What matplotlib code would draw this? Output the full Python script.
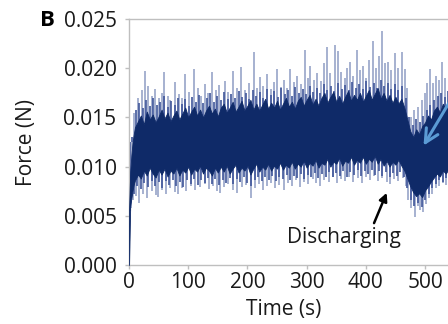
import matplotlib
matplotlib.use("Agg")
import matplotlib.pyplot as plt

plt.rcParams['font.family'] = ['Open Sans', 'DejaVu Sans']

# dark core of the force trace (time s, lower / upper force N)
core_t = [0, 2, 4, 6, 8, 10] + list(range(15, 565, 5))
core_hi = [0.0055, 0.0095, 0.0112, 0.0125, 0.0133, 0.0140,
           0.0146, 0.0152, 0.0143, 0.0156, 0.0148, 0.0153, 0.0145, 0.0151, 0.0158, 0.0149,
           0.0155, 0.0146, 0.0152, 0.0157, 0.0148, 0.0154, 0.0160, 0.0150,
           0.0156, 0.0161, 0.0152, 0.0158, 0.0150, 0.0157, 0.0162, 0.0154, 0.0159, 0.0151,
           0.0160, 0.0164, 0.0155, 0.0160, 0.0166, 0.0156, 0.0161, 0.0167, 0.0157, 0.0162,
           0.0168, 0.0158, 0.0164, 0.0157, 0.0163, 0.0169, 0.0159, 0.0165, 0.0160, 0.0167,
           0.0158, 0.0164, 0.0170, 0.0161, 0.0166, 0.0159, 0.0167, 0.0171, 0.0162, 0.0168,
           0.0173, 0.0163, 0.0169, 0.0162, 0.0170, 0.0175, 0.0165, 0.0171, 0.0176, 0.0166,
           0.0172, 0.0164, 0.0171, 0.0177, 0.0167, 0.0173, 0.0168, 0.0175, 0.0166, 0.0172,
           0.0178, 0.0168, 0.0174, 0.0180, 0.0169, 0.0175, 0.0167, 0.0173, 0.0165, 0.0171,
           0.0164, 0.0169, 0.0160, 0.0148, 0.0136, 0.0130, 0.0138, 0.0133, 0.0141, 0.0145,
           0.0152, 0.0148, 0.0157, 0.0161, 0.0155, 0.0164, 0.0158, 0.0166, 0.0160, 0.0165,
           0.0159, 0.0164]
core_lo = [0.0000, 0.0060, 0.0068, 0.0076, 0.0082, 0.0086,
           0.0092, 0.0088, 0.0096, 0.0091, 0.0099, 0.0093, 0.0089, 0.0097, 0.0092, 0.0098,
           0.0090, 0.0096, 0.0093, 0.0099, 0.0091, 0.0097, 0.0094, 0.0100,
           0.0092, 0.0098, 0.0095, 0.0101, 0.0093, 0.0099, 0.0096, 0.0091, 0.0099, 0.0094,
           0.0100, 0.0095, 0.0101, 0.0093, 0.0098, 0.0102, 0.0094, 0.0099, 0.0096, 0.0101,
           0.0092, 0.0098, 0.0103, 0.0095, 0.0100, 0.0097, 0.0103, 0.0096, 0.0101, 0.0098,
           0.0104, 0.0097, 0.0102, 0.0099, 0.0105, 0.0098, 0.0103, 0.0100, 0.0106, 0.0099,
           0.0104, 0.0101, 0.0107, 0.0099, 0.0104, 0.0102, 0.0108, 0.0100, 0.0105, 0.0103,
           0.0109, 0.0101, 0.0106, 0.0104, 0.0110, 0.0102, 0.0107, 0.0104, 0.0110, 0.0103,
           0.0108, 0.0105, 0.0111, 0.0103, 0.0108, 0.0101, 0.0106, 0.0100, 0.0105, 0.0102,
           0.0107, 0.0101, 0.0096, 0.0088, 0.0080, 0.0074, 0.0070, 0.0073, 0.0069, 0.0076,
           0.0080, 0.0085, 0.0089, 0.0093, 0.0090, 0.0096, 0.0093, 0.0098, 0.0095, 0.0099,
           0.0096, 0.0100]

# medium spikes just outside the core
mid_up_t = list(range(5, 561, 6))
mid_up_f = [0.0130, 0.0158, 0.0165, 0.0160, 0.0168, 0.0162, 0.0170, 0.0163, 0.0166, 0.0172,
            0.0161, 0.0167, 0.0163, 0.0170, 0.0164, 0.0169, 0.0162, 0.0171, 0.0166, 0.0173,
            0.0165, 0.0170, 0.0175, 0.0166, 0.0172, 0.0168, 0.0176, 0.0169, 0.0174, 0.0170,
            0.0177, 0.0171, 0.0175, 0.0169, 0.0178, 0.0172, 0.0176, 0.0170, 0.0179, 0.0173,
            0.0177, 0.0171, 0.0180, 0.0174, 0.0178, 0.0172, 0.0181, 0.0175, 0.0179, 0.0174,
            0.0182, 0.0176, 0.0180, 0.0175, 0.0184, 0.0178, 0.0182, 0.0177, 0.0185, 0.0179,
            0.0183, 0.0178, 0.0186, 0.0180, 0.0184, 0.0179, 0.0187, 0.0181, 0.0185, 0.0180,
            0.0188, 0.0182, 0.0185, 0.0179, 0.0184, 0.0178, 0.0182, 0.0170, 0.0150, 0.0142,
            0.0148, 0.0145, 0.0152, 0.0158, 0.0163, 0.0168, 0.0172, 0.0175, 0.0171, 0.0177,
            0.0173, 0.0176, 0.0172]
mid_dn_t = list(range(2, 561, 6))
mid_dn_f = [0.0055, 0.0072, 0.0080, 0.0077, 0.0083, 0.0079, 0.0085, 0.0080, 0.0084, 0.0078,
            0.0085, 0.0081, 0.0086, 0.0080, 0.0084, 0.0079, 0.0086, 0.0082, 0.0087, 0.0081,
            0.0086, 0.0083, 0.0088, 0.0082, 0.0087, 0.0081, 0.0086, 0.0083, 0.0088, 0.0082,
            0.0087, 0.0084, 0.0089, 0.0083, 0.0080, 0.0086, 0.0090, 0.0085, 0.0089, 0.0086,
            0.0091, 0.0085, 0.0090, 0.0087, 0.0092, 0.0086, 0.0091, 0.0088, 0.0093, 0.0087,
            0.0092, 0.0089, 0.0094, 0.0088, 0.0093, 0.0090, 0.0095, 0.0089, 0.0094, 0.0091,
            0.0096, 0.0090, 0.0095, 0.0092, 0.0097, 0.0091, 0.0096, 0.0093, 0.0097, 0.0092,
            0.0096, 0.0091, 0.0095, 0.0090, 0.0094, 0.0091, 0.0095, 0.0089, 0.0078, 0.0066,
            0.0060, 0.0063, 0.0059, 0.0066, 0.0072, 0.0078, 0.0082, 0.0086, 0.0084, 0.0088,
            0.0086, 0.0090, 0.0087, 0.0091]

# tall upward spikes
up_t = [8, 15, 22, 27, 32, 38, 44, 50, 55, 59, 65, 70, 78, 84, 90, 95, 102, 110,
        116, 122, 128, 134, 140, 147, 152, 162, 168, 176, 182, 189, 196, 203, 211,
        216, 221, 227, 233, 240, 245, 250, 256, 262, 266, 272, 278, 284, 290, 297,
        302, 306, 312, 318, 324, 329, 334, 340, 348, 353, 358, 364, 368, 373, 378,
        385, 390, 395, 400, 406, 412, 417, 422, 427, 432, 437, 443, 449, 455, 461,
        466, 470, 476, 482, 488, 494, 500, 504, 508, 514, 519, 524, 529, 534, 540,
        546, 552, 558]
up_f = [0.0155, 0.0170, 0.0178, 0.0197, 0.0182, 0.0172, 0.0179, 0.0170, 0.0175,
        0.0196, 0.0172, 0.0168, 0.0186, 0.0174, 0.0170, 0.0194, 0.0176, 0.0199,
        0.0180, 0.0172, 0.0184, 0.0175, 0.0196, 0.0178, 0.0183, 0.0187, 0.0176,
        0.0197, 0.0180, 0.0201, 0.0178, 0.0185, 0.0217, 0.0180, 0.0191, 0.0182,
        0.0194, 0.0179, 0.0186, 0.0199, 0.0181, 0.0188, 0.0180, 0.0199, 0.0186,
        0.0192, 0.0184, 0.0219, 0.0190, 0.0202, 0.0188, 0.0195, 0.0187, 0.0205,
        0.0222, 0.0195, 0.0224, 0.0218, 0.0196, 0.0190, 0.0200, 0.0206, 0.0192,
        0.0219, 0.0198, 0.0202, 0.0190, 0.0208, 0.0228, 0.0200, 0.0212, 0.0238,
        0.0205, 0.0206, 0.0198, 0.0216, 0.0200, 0.0217, 0.0199, 0.0180, 0.0150,
        0.0158, 0.0161, 0.0168, 0.0175, 0.0185, 0.0199, 0.0185, 0.0192, 0.0188,
        0.0206, 0.0190, 0.0196, 0.0188, 0.0195, 0.0190]

# deep downward spikes
dn_t = [3, 7, 12, 17, 24, 31, 38, 45, 49, 56, 63, 70, 77, 83, 90, 97, 104, 112,
        120, 128, 135, 142, 148, 154, 161, 168, 175, 183, 190, 197, 206, 212, 219,
        226, 233, 240, 247, 254, 261, 268, 275, 282, 289, 296, 303, 310, 316, 323,
        330, 337, 344, 351, 358, 365, 372, 379, 386, 393, 400, 407, 414, 421, 428,
        435, 441, 448, 455, 462, 468, 472, 477, 483, 488, 492, 497, 502, 507, 512,
        518, 524, 530, 536, 542, 548, 555]
dn_f = [0.0058, 0.0066, 0.0070, 0.0063, 0.0072, 0.0068, 0.0075, 0.0071, 0.0069,
        0.0076, 0.0072, 0.0078, 0.0074, 0.0072, 0.0078, 0.0075, 0.0080, 0.0076,
        0.0079, 0.0082, 0.0077, 0.0080, 0.0075, 0.0073, 0.0079, 0.0082, 0.0076,
        0.0073, 0.0079, 0.0081, 0.0068, 0.0078, 0.0082, 0.0076, 0.0080, 0.0083,
        0.0078, 0.0081, 0.0076, 0.0083, 0.0080, 0.0086, 0.0079, 0.0084, 0.0082,
        0.0087, 0.0083, 0.0080, 0.0086, 0.0084, 0.0089, 0.0083, 0.0087, 0.0085,
        0.0090, 0.0084, 0.0088, 0.0083, 0.0089, 0.0086, 0.0091, 0.0085, 0.0088,
        0.0084, 0.0082, 0.0087, 0.0085, 0.0088, 0.0080, 0.0066, 0.0058, 0.0049,
        0.0060, 0.0056, 0.0054, 0.0062, 0.0068, 0.0072, 0.0078, 0.0080, 0.0083,
        0.0081, 0.0085, 0.0083, 0.0086]

x_ticks = [0, 100, 200, 300, 400, 500]
y_ticks = [0.000, 0.005, 0.010, 0.015, 0.020, 0.025]

navy = '#0f2a68'
mid = '#40569a'
light = '#8e9cc4'
grey = '#bfbfbf'

fig = plt.figure(figsize=(4.48, 3.24), dpi=100)
ax = fig.add_axes([0.288, 0.182, 0.793, 0.759])

ax.vlines(up_t, 0.0125, up_f, color=light, lw=1.1, zorder=1)
ax.vlines(dn_t, dn_f, 0.0125, color=light, lw=1.1, zorder=1)
ax.vlines(mid_up_t, 0.0125, mid_up_f, color=mid, lw=1.2, zorder=2)
ax.vlines(mid_dn_t, mid_dn_f, 0.0125, color=mid, lw=1.2, zorder=2)
ax.fill_between(core_t, core_lo, core_hi, color=navy, lw=0.6, edgecolor=navy, zorder=3)

ax.set_xlim(0, 600)
ax.set_ylim(0, 0.025)
ax.set_xticks(x_ticks)
ax.set_yticks(y_ticks)
ax.set_yticklabels([f"{v:.3f}" for v in y_ticks])
for s in ax.spines.values():
    s.set_color(grey)
    s.set_linewidth(1)
ax.tick_params(colors=grey, labelcolor='#1a1a1a', labelsize=15, length=3, width=1)
ax.tick_params(axis='y', pad=6)
ax.tick_params(axis='x', pad=2)

ax.set_xlabel('Time (s)', fontsize=15, color='#1a1a1a')
ax.xaxis.set_label_coords(0.434, -0.14)
ax.set_ylabel('Force (N)', fontsize=15, color='#1a1a1a')
ax.yaxis.set_label_coords(-0.26, 0.5)

ax.annotate('', xy=(437, 0.0076), xytext=(412, 0.0040),
            arrowprops=dict(arrowstyle='-|>', color='black', lw=1.8, mutation_scale=12))
ax.text(363, 0.0028, 'Discharging', fontsize=15, ha='center', va='center', color='#1a1a1a')
ax.annotate('', xy=(495, 0.0119), xytext=(580, 0.0205),
            arrowprops=dict(arrowstyle='->', color='#5b9bd5', lw=2.2, mutation_scale=24))

fig.text(40 / 448, 1 - 20 / 324, 'B', fontsize=16, fontweight='bold', ha='left', va='center')

fig.savefig('out.png', dpi=100)
